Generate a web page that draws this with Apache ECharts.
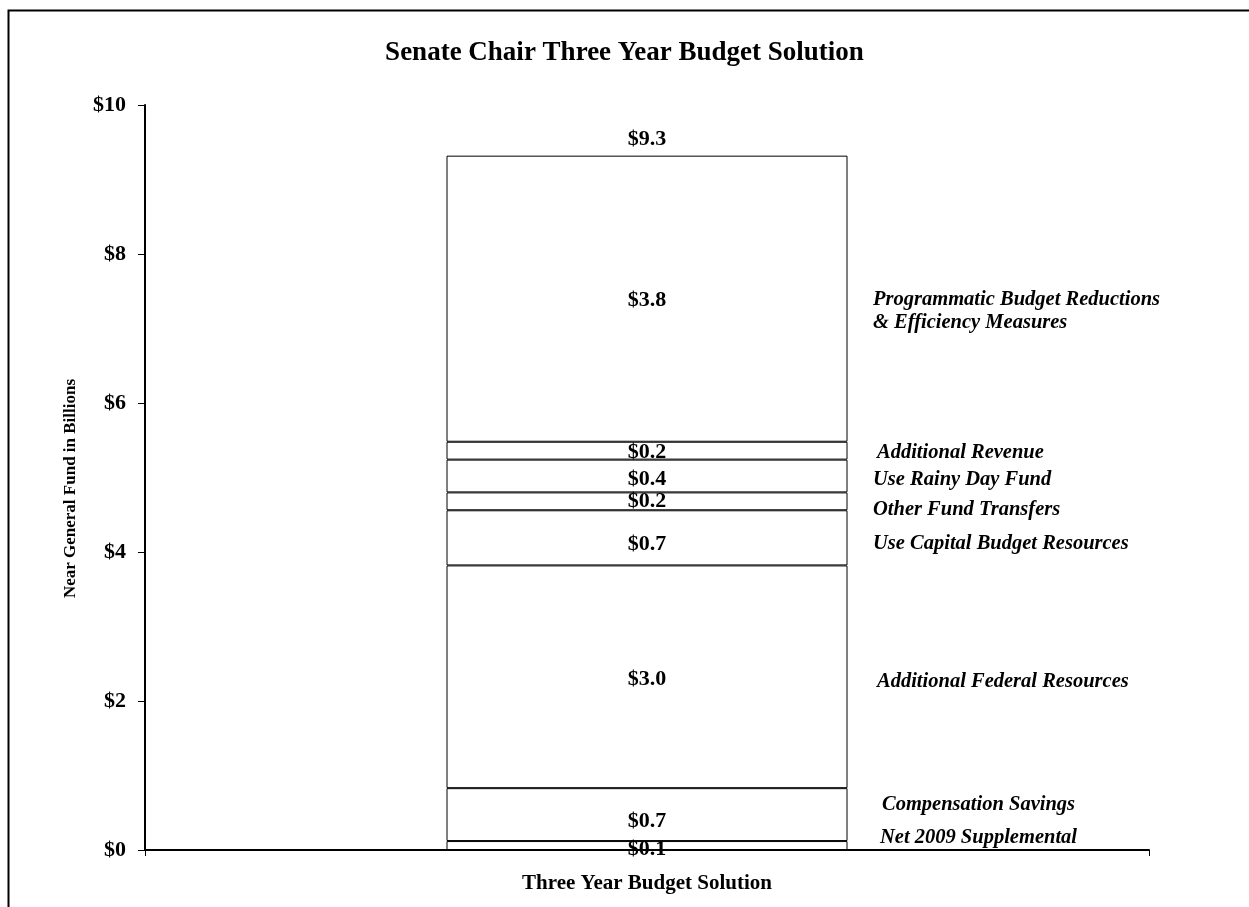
<!DOCTYPE html>
<html>
<head>
<meta charset="utf-8">
<script src="https://cdn.jsdelivr.net/npm/echarts@6/dist/echarts.min.js"></script>
<style>
html,body{margin:0;padding:0;background:#fff;}
#chart{width:1249px;height:907px;}
</style>
</head>
<body>
<div id="chart"></div>
<script>
// ---- data ----
const titleText = 'Senate Chair Three Year Budget Solution';
const categories = ['Three Year Budget Solution'];
const segmentNames = [
  'Net 2009 Supplemental',
  'Compensation Savings',
  'Additional Federal Resources',
  'Use Capital Budget Resources',
  'Other Fund Transfers',
  'Use Rainy Day Fund',
  'Additional Revenue',
  'Programmatic Budget Reductions\n& Efficiency Measures'
];
const segmentValues = [0.12, 0.71, 2.99, 0.74, 0.24, 0.44, 0.24, 3.84];
const yTicks = [0, 2, 4, 6, 8, 10];
const yAxisName = 'Near General Fund in Billions';

// ---- styling helpers (label nudges in px, not data) ----
const nameDx = [7, 9, 4, 0, 0, 0, 4, 0];
const nameDy = [-8, -10, 5, 6, 8, 4, 2, 13];
const valueDy = [4, 7, 3, 6, 0, 3, 2, 2];

const FONT = 'Liberation Serif, Times New Roman, serif';
const total = segmentValues.reduce((a, b) => a + b, 0);

const barSeries = segmentValues.map((v, i) => ({
  type: 'bar',
  name: segmentNames[i],
  stack: 'total',
  barWidth: 401,
  data: [v],
  itemStyle: { color: '#ffffff', borderColor: '#000000', borderWidth: 1 },
  label: {
    show: true,
    position: 'inside',
    offset: [0, valueDy[i]],
    formatter: p => '$' + p.value.toFixed(1),
    fontFamily: FONT, fontWeight: 'bold', fontSize: 22, color: '#000'
  },
  emphasis: { disabled: true },
  silent: true
}));

// cumulative mid points for side labels
let cum = 0;
const mids = segmentValues.map(v => { const m = cum + v / 2; cum += v; return m; });

const nameSeries = {
  type: 'scatter',
  symbolSize: 0,
  itemStyle: { color: '#000', opacity: 1 },
  emphasis: { disabled: true },
  silent: true,
  data: mids.map((m, i) => ({
    value: [0, m],
    label: {
      show: true,
      position: 'right',
      distance: 226 + nameDx[i],
      offset: [0, nameDy[i]],
      formatter: segmentNames[i],
      align: 'left',
      verticalAlign: 'middle',
      fontFamily: FONT, fontWeight: 'bold', fontStyle: 'italic', fontSize: 20.5,
      lineHeight: 23, color: '#000', opacity: 1
    }
  }))
};

const totalSeries = {
  type: 'scatter',
  symbolSize: 0,
  itemStyle: { color: '#000', opacity: 1 },
  emphasis: { disabled: true },
  silent: true,
  data: [{
    value: [0, total],
    label: {
      show: true, position: 'top', distance: 5,
      formatter: '$' + total.toFixed(1),
      fontFamily: FONT, fontWeight: 'bold', fontSize: 22, color: '#000', opacity: 1
    }
  }]
};

const chart = echarts.init(document.getElementById('chart'), null, { renderer: 'canvas' });
chart.setOption({
  animation: false,
  backgroundColor: '#ffffff',
  title: {
    text: titleText, left: 'center', top: 35,
    textStyle: { fontFamily: FONT, fontWeight: 'bold', fontSize: 27, color: '#000' }
  },
  graphic: [{
    type: 'rect', left: 6, top: 8, silent: true,
    shape: { width: 1300, height: 1000 },
    style: { fill: 'none', stroke: '#000', lineWidth: 2 }
  }],
  grid: { left: 145, right: 100, top: 105, bottom: 57, containLabel: false },
  xAxis: {
    type: 'category',
    data: categories,
    axisLine: { lineStyle: { color: '#000', width: 2 } },
    axisTick: { show: true, length: 6, lineStyle: { color: '#000', width: 1 } },
    axisLabel: { fontFamily: FONT, fontWeight: 'bold', fontSize: 21, color: '#000', margin: 23 },
    splitLine: { show: false }
  },
  yAxis: {
    type: 'value',
    min: yTicks[0], max: yTicks[yTicks.length - 1], interval: yTicks[1] - yTicks[0],
    name: yAxisName,
    nameLocation: 'middle',
    nameGap: 66,
    nameRotate: 90,
    nameTextStyle: { fontFamily: FONT, fontWeight: 'bold', fontSize: 17, color: '#000', padding: [0, 22, 0, 0] },
    axisLine: { show: true, lineStyle: { color: '#000', width: 2 } },
    axisTick: { show: true, length: 7, lineStyle: { color: '#000', width: 1 } },
    axisLabel: {
      formatter: v => '$' + v,
      fontFamily: FONT, fontWeight: 'bold', fontSize: 22, color: '#000', margin: 19
    },
    splitLine: { show: false }
  },
  series: [...barSeries, nameSeries, totalSeries]
});
</script>
</body>
</html>
